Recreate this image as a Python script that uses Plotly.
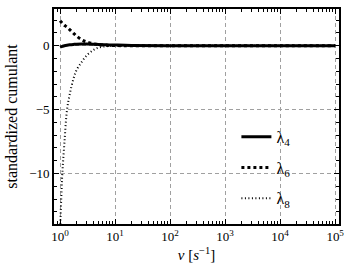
import plotly.graph_objects as go

nu = [1.0, 1.05, 1.1, 1.2, 1.34, 1.5, 1.75, 2.0, 2.5, 3.0, 4.0, 5.0, 7.0, 10.0, 20.0, 100.0, 1e3, 1e4, 1e5]
lam4 = [-0.12, -0.08, -0.05, 0.0, 0.04, 0.07, 0.1, 0.12, 0.13, 0.13, 0.12, 0.1, 0.07, 0.05, 0.02, 0.0, 0.0, 0.0, 0.0]
lam6 = [1.95, 1.85, 1.75, 1.6, 1.45, 1.25, 0.98, 0.75, 0.45, 0.3, 0.15, 0.08, 0.03, 0.01, 0.0, 0.0, 0.0, 0.0, 0.0]
lam8 = [-14.5, -12.0, -10.0, -7.6, -5.0, -3.8, -2.6, -1.9, -1.25, -0.8, -0.35, -0.15, -0.04, 0.0, 0.0, 0.0, 0.0, 0.0, 0.0]

xtick_vals = [1, 10, 100, 1000, 10000, 100000]
xtick_text = ["10<sup>0</sup>", "10<sup>1</sup>", "10<sup>2</sup>", "10<sup>3</sup>", "10<sup>4</sup>", "10<sup>5</sup>"]
ytick_vals = [0, -5, -10]
ytick_text = ["0", "\u22125", "\u221210"]

fig = go.Figure()
fig.add_trace(go.Scatter(x=nu, y=lam4, mode="lines", name="\u03bb<sub>4</sub>", legendgroup="a",
                         line=dict(color="black", width=3, shape="spline")))
fig.add_trace(go.Scatter(x=nu, y=lam6, mode="lines", name="\u03bb<sub>6</sub>", legendgroup="b",
                         line=dict(color="black", width=3, dash="3px,3px", shape="spline")))
fig.add_trace(go.Scatter(x=nu, y=lam8, mode="lines", name="\u03bb<sub>8</sub>", legendgroup="c",
                         line=dict(color="black", width=2, dash="1px,2.5px", shape="spline")))

axis_common = dict(showline=True, linecolor="black", linewidth=1.6, mirror="ticks",
                   ticks="inside", ticklen=5, tickwidth=1.2, tickcolor="black", zeroline=False,
                   showgrid=True, gridcolor="#a0a0a0", griddash="4px,3px", gridwidth=1,
                   tickfont=dict(size=13, color="black"))

fig.update_xaxes(type="log", range=[-0.11, 5.07], tickvals=xtick_vals, ticktext=xtick_text,
                 minor=dict(ticks="inside", ticklen=3, tickwidth=1, tickcolor="black", dtick="D1", showgrid=False),
                 title=dict(text="<i>\u03bd</i> [<i>s</i><sup>\u22121</sup>]", font=dict(size=15, color="black"), standoff=6),
                 **axis_common)
fig.update_yaxes(range=[-13.95, 2.87], tickvals=ytick_vals, ticktext=ytick_text,
                 minor=dict(ticks="inside", ticklen=3, tickwidth=1, tickcolor="black", dtick=1, showgrid=False),
                 title=dict(text="standardized cumulant", font=dict(size=16, color="black"), standoff=8),
                 **axis_common)

fig.update_layout(
    width=352, height=273,
    margin=dict(l=54, r=13, t=7, b=49),
    paper_bgcolor="white", plot_bgcolor="white",
    font=dict(family="Liberation Serif", size=13, color="black"),
    showlegend=True,
    legend=dict(x=0.64, y=0.485, xanchor="left", yanchor="top", bgcolor="rgba(0,0,0,0)",
                tracegroupgap=7, font=dict(size=16)),
)

fig.write_html("out.html")
